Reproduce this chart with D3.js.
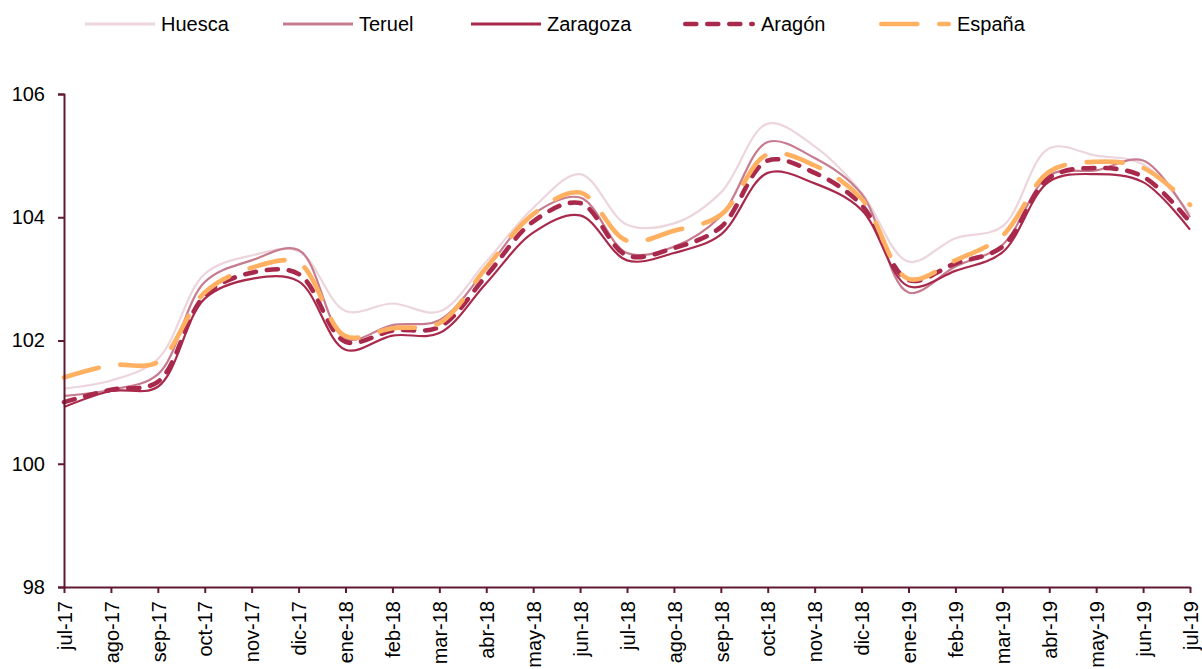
<!DOCTYPE html>
<html>
<head>
<meta charset="utf-8">
<script src="https://cdn.jsdelivr.net/npm/d3@7"></script>
<style>
  body { margin: 0; background: #fff; }
  text { font-family: "Liberation Sans", Arial, sans-serif; fill: #000; }
</style>
</head>
<body>
<div id="chart"></div>
<script>
// Months (x categories)
const months = ["jul-17", "ago-17", "sep-17", "oct-17", "nov-17", "dic-17", "ene-18", "feb-18", "mar-18",
  "abr-18", "may-18", "jun-18", "jul-18", "ago-18", "sep-18", "oct-18", "nov-18", "dic-18", "ene-19",
  "feb-19", "mar-19", "abr-19", "may-19", "jun-19", "jul-19"];

// Series values
const huesca   = [101.22, 101.35, 101.7, 103.08, 103.38, 103.45, 102.48, 102.6, 102.47, 103.28, 104.15, 104.7, 103.88,
  103.9, 104.4, 105.52, 105.15, 104.4, 103.28, 103.66, 103.85, 105.12, 105.0, 104.86, 104.05];
const teruel   = [101.1, 101.2, 101.45, 102.95, 103.3, 103.47, 102.03, 102.25, 102.33, 103.16, 104.05, 104.32, 103.42,
  103.52, 104.02, 105.22, 104.96, 104.38, 102.78, 103.2, 103.55, 104.68, 104.76, 104.92, 104.0];
const zaragoza = [100.92, 101.18, 101.25, 102.68, 103.0, 102.96, 101.85, 102.08, 102.12, 102.93, 103.75, 104.03, 103.3,
  103.42, 103.72, 104.72, 104.55, 104.12, 102.88, 103.13, 103.43, 104.58, 104.7, 104.57, 103.8];
const aragon   = [101.0, 101.2, 101.33, 102.73, 103.1, 103.08, 101.98, 102.16, 102.22, 103.05, 103.93, 104.23, 103.38,
  103.5, 103.84, 104.92, 104.72, 104.2, 102.98, 103.25, 103.52, 104.64, 104.8, 104.66, 103.92];
const espana   = [101.4, 101.6, 101.65, 102.78, 103.18, 103.26, 102.07, 102.2, 102.28, 103.18, 104.05, 104.4, 103.62,
  103.78, 104.04, 105.02, 104.84, 104.3, 103.0, 103.3, 103.7, 104.74, 104.9, 104.8, 104.2];

const yTicks = [98, 100, 102, 104, 106];

const seriesNames = ["Huesca", "Teruel", "Zaragoza", "Aragón", "España"];
const seriesValues = [huesca, teruel, zaragoza, aragon, espana];

// Styles per series
const styles = {
  "Huesca":   { color: "#ecd5dd", width: 2.2, dash: null },
  "Teruel":   { color: "#c67b8e", width: 2.2, dash: null },
  "Zaragoza": { color: "#a8294b", width: 2.2, dash: null },
  "Aragón":   { color: "#a8294b", width: 4.6, dash: "11,11" },
  "España":   { color: "#ffb061", width: 4.6, dash: "36,22" }
};

const W = 1202, H = 669;
const axisColor = "#5e1a30";
const font = "Liberation Sans, Arial, sans-serif";

const svg = d3.select("#chart")
  .append("svg")
  .attr("width", W)
  .attr("height", H);

// Scales
const x = d3.scalePoint()
  .domain(months)
  .range([64, 1190]);

const y = d3.scaleLinear()
  .domain([98, 106])
  .range([587, 94]);

// Lines (smoothed like the original)
const line = d3.line()
  .x((d, i) => x(months[i]))
  .y(d => y(d))
  .curve(d3.curveCatmullRom.alpha(0.5));

seriesNames.forEach((name, k) => {
  const s = styles[name];
  svg.append("path")
    .datum(seriesValues[k])
    .attr("fill", "none")
    .attr("stroke", s.color)
    .attr("stroke-width", s.width)
    .attr("stroke-linecap", s.dash ? "round" : "butt")
    .attr("stroke-dasharray", s.dash)
    .attr("d", line);
});

// Y axis
const yAxis = svg.append("g")
  .attr("transform", "translate(64,0)")
  .call(d3.axisLeft(y).tickValues(yTicks).tickSize(6).tickPadding(13).tickFormat(d3.format("d")));
yAxis.select(".domain").attr("stroke", axisColor).attr("stroke-width", 2);
yAxis.selectAll(".tick line").attr("stroke", axisColor).attr("stroke-width", 2);
yAxis.selectAll(".tick text")
  .style("font-size", "20px")
  .style("font-family", font)
  .attr("fill", "#000");

// X axis
const xAxis = svg.append("g")
  .attr("transform", "translate(0,587)")
  .call(d3.axisBottom(x).tickSize(6).tickSizeOuter(0));
xAxis.select(".domain").attr("stroke", axisColor).attr("stroke-width", 2);
xAxis.selectAll(".tick line").attr("stroke", axisColor).attr("stroke-width", 2);
xAxis.selectAll(".tick text")
  .attr("transform", "rotate(-90)")
  .attr("x", -14)
  .attr("y", 0)
  .attr("dy", "0.36em")
  .style("text-anchor", "end")
  .style("font-size", "20px")
  .style("font-family", font)
  .attr("fill", "#000");

// Legend
const legendX = [85, 283, 471, 683, 879];
const legend = svg.append("g");
seriesNames.forEach((name, k) => {
  const s = styles[name];
  const x0 = legendX[k];
  const len = s.dash ? 72 : 70;
  const g = legend.append("g");
  g.append("line")
    .attr("x1", x0 + (s.dash ? 2.3 : 0))
    .attr("x2", x0 + len - (s.dash ? 2.3 : 0))
    .attr("y1", 24).attr("y2", 24)
    .attr("stroke", s.color)
    .attr("stroke-width", s.dash ? 4.6 : 3)
    .attr("stroke-linecap", s.dash ? "round" : "butt")
    .attr("stroke-dasharray", s.dash);
  g.append("text")
    .attr("x", x0 + len + 6)
    .attr("y", 24)
    .attr("dy", "0.36em")
    .style("font-size", "20px")
    .text(name);
});
</script>
</body>
</html>
